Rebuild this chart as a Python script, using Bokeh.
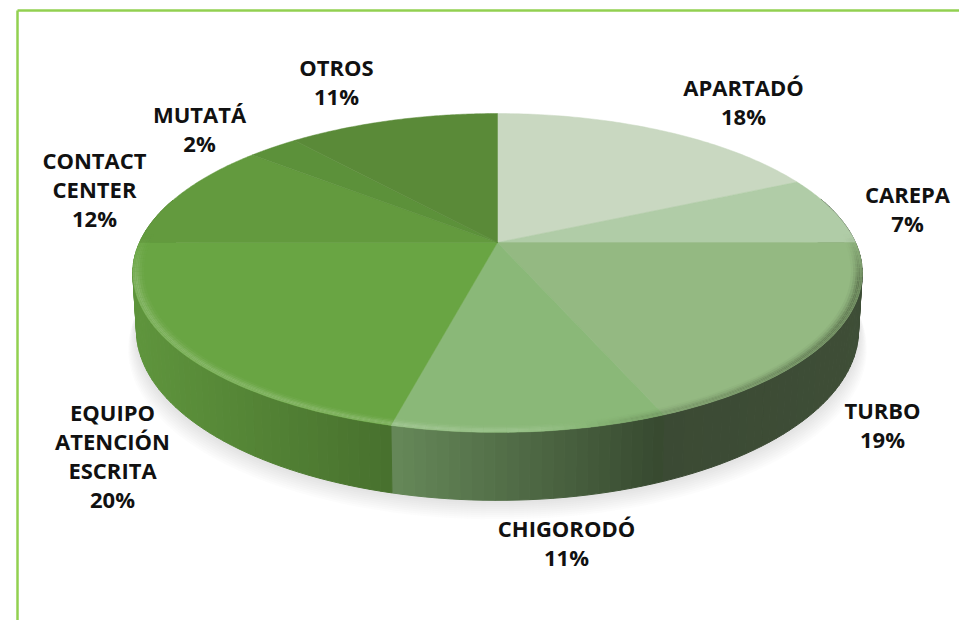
import numpy as np
from bokeh.plotting import figure
from bokeh.models import Range1d
from bokeh.core.properties import value
from bokeh.embed import file_html
from bokeh.resources import INLINE

# ---- data ----
categories = ["APARTADÓ", "CAREPA", "TURBO", "CHIGORODÓ", "EQUIPO\nATENCIÓN\nESCRITA",
              "CONTACT\nCENTER", "MUTATÁ", "OTROS"]
percent_labels = ["18%", "7%", "19%", "11%", "20%", "12%", "2%", "11%"]
# slice sizes as drawn (estimated from slice boundaries in the picture)
slice_shares = [18.0, 7.0, 18.75, 10.15, 21.1, 11.05, 2.7, 11.25]
slice_colors = ["#c9d8c1", "#b0cca7", "#94b982", "#8ab878", "#69a543", "#639a3e", "#5c913a", "#5a8a38"]

# ---- label placement (page pixels) ----
label_x = [743, 907, 882, 566, 112, 94, 199, 336]
label_y = [86, 193, 409, 527, 411, 159, 113, 66]
line_step = 29

# ---- projection of the tilted disc ----
CX, CY, A, B, K, DEPTH = 497, 242, 358, 153.6, 0.191, 55


def project(theta, r=1.0):
    u, v = r * np.sin(theta), r * np.cos(theta)
    w = 1 + K * v
    return CX + A * u / w, CY - B * v / w


def project_low(theta):
    x, y = project(theta)
    w = 1 + K * np.cos(theta)
    return CX + (x - CX) * 0.99, y + DEPTH / w


def hexc(c):
    return "#%02x%02x%02x" % tuple(int(max(0, min(255, round(i)))) for i in c)


def rgb(h):
    return np.array([int(h[i:i + 2], 16) for i in (1, 3, 5)], dtype=float)


def side_shade(x):
    return np.interp(x, [135, 391, 392, 660, 860], [0.90, 0.68, 0.74, 0.40, 0.42])


def bevel_strength(x):
    return np.interp(x, [135, 391, 540, 640, 860], [0.20, 0.22, 0.14, -0.18, -0.45])


p = figure(width=959, height=620, output_backend="svg", toolbar_location=None,
           x_range=Range1d(0, 959), y_range=Range1d(620, 0), min_border=0,
           x_axis_type=None, y_axis_type=None, outline_line_color=None,
           background_fill_color="white", border_fill_color="white")
p.grid.visible = False

# frame
p.line([17, 17], [10, 620], line_color="#92d050", line_width=2.5)
p.line([17, 959], [10, 10], line_color="#92d050", line_width=2.5)

# slice boundaries in radians, clockwise from the top
edges = np.radians(np.concatenate([[0], np.cumsum(slice_shares)]) / sum(slice_shares) * 360)

# soft shadow
all_t = np.linspace(0, 2 * np.pi, 241)
lx, ly = project_low(all_t)
for off in range(1, 20, 2):
    p.patch(CX + (lx - CX) * (1 + off * 0.0012), ly + off, fill_color="#808080", fill_alpha=0.028, line_color=None)

# side wall
xs, ys, cols = [], [], []
for i in range(len(slice_shares)):
    n = max(2, int((edges[i + 1] - edges[i]) / np.radians(1.5)))
    t = np.linspace(edges[i], edges[i + 1], n + 1)
    for a, b in zip(t[:-1], t[1:]):
        if np.cos((a + b) / 2) > 0.3:
            continue
        x1, y1 = project(np.array([a, b]))
        x2, y2 = project_low(np.array([b, a]))
        xs.append(list(x1) + list(x2))
        ys.append(list(y1) + list(y2))
        base = rgb(slice_colors[i])
        cols.append(hexc(base * side_shade(x1.mean())))
p.patches(xs, ys, fill_color=cols, line_color=cols, line_width=1)

# top face
for i, col in enumerate(slice_colors):
    t = np.linspace(edges[i], edges[i + 1], 80)
    x, y = project(t)
    p.patch([CX] + list(x), [CY] + list(y), fill_color=col, line_color=col, line_width=0.5)

# bevel along the front rim: narrow, smooth
radii = [0.970, 0.976, 0.982, 0.987, 0.991, 0.995, 1.0]
weights = [0.12, 0.35, 0.65, 0.95, 1.0, 0.8]
xs, ys, cols = [], [], []
for i in range(len(slice_shares)):
    n = max(2, int((edges[i + 1] - edges[i]) / np.radians(1.5)))
    t = np.linspace(edges[i], edges[i + 1], n + 1)
    base = rgb(slice_colors[i])
    for a, b in zip(t[:-1], t[1:]):
        fade = np.clip((0.05 - np.cos((a + b) / 2)) / 0.3, 0, 1)
        if fade == 0:
            continue
        for j, wgt in enumerate(weights):
            x1, y1 = project(np.array([a, b]), radii[j + 1])
            x2, y2 = project(np.array([b, a]), radii[j])
            s = bevel_strength(x1.mean()) * wgt * fade
            target = np.array([255, 255, 255.0]) if s > 0 else np.array([40, 50, 30.0])
            xs.append(list(x1) + list(x2))
            ys.append(list(y1) + list(y2))
            cols.append(hexc(base + (target - base) * abs(s)))
p.patches(xs, ys, fill_color=cols, line_color=None)

# labels
tx, ty, tt = [], [], []
for name, pct, lxp, lyp in zip(categories, percent_labels, label_x, label_y):
    for k, line in enumerate(name.split("\n") + [pct]):
        tx.append(lxp)
        ty.append(lyp + k * line_step)
        tt.append(line)
p.text(tx, ty, text=tt, text_font=value("Open Sans"), text_font_style="bold",
       text_font_size="22px", text_color="#111111", text_align="center", text_baseline="middle")

open("out.html", "w").write(file_html(p, INLINE))
